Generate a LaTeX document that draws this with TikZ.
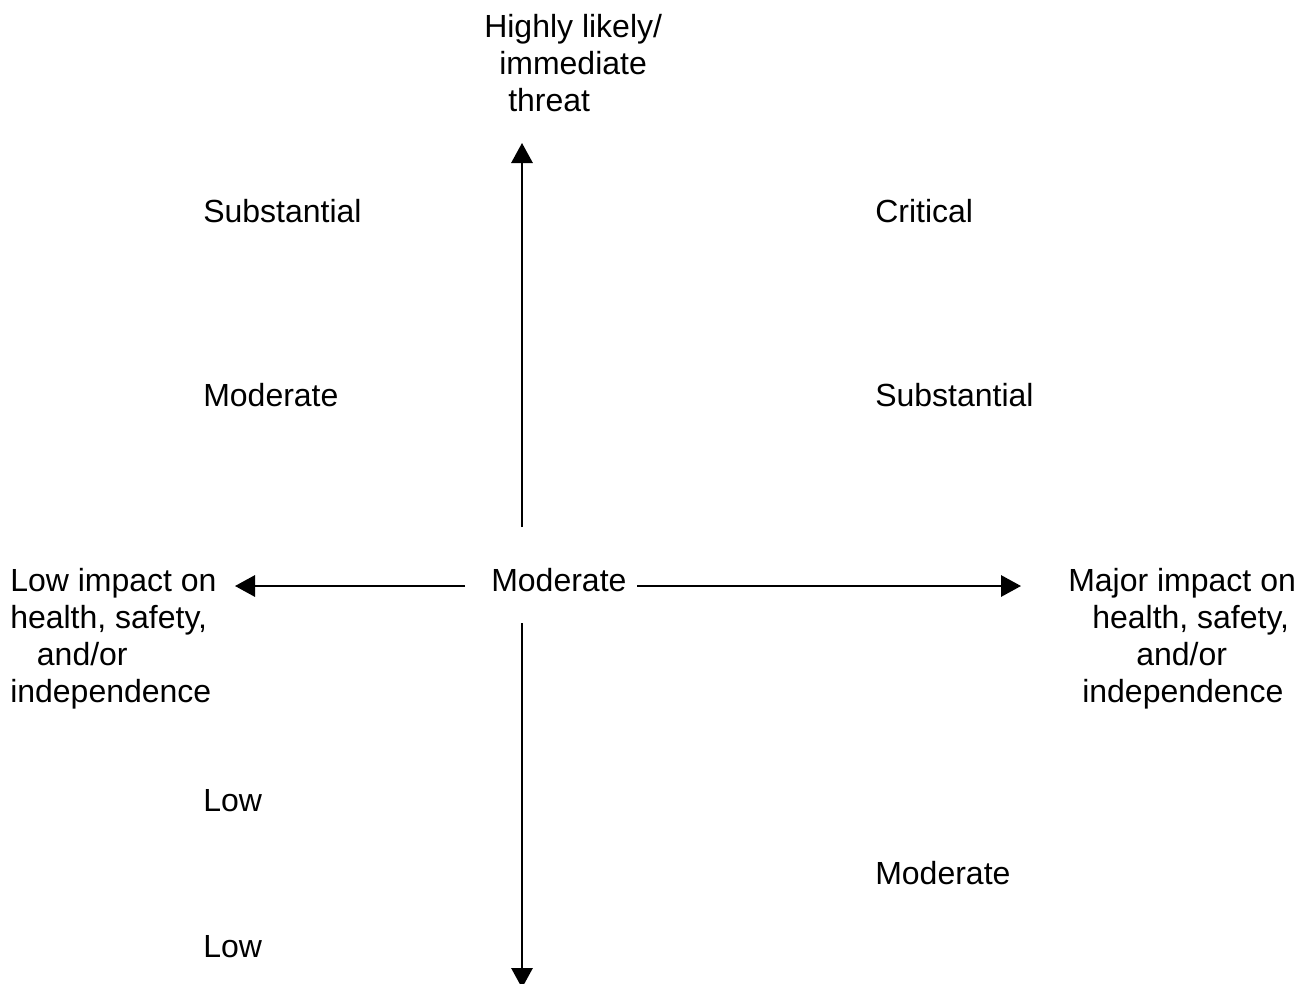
\documentclass[tikz,border=0pt]{standalone}
\usepackage{fontspec}
\setmainfont{Liberation Sans}
\usetikzlibrary{arrows.meta}

\begin{document}
\begin{tikzpicture}[x=0.75pt, y=-0.75pt,
  every node/.style={inner sep=0pt, font=\fontsize{24}{27.75}\selectfont},
  lbl/.style={anchor=base west},
  axis/.style={line width=1.5pt, -{Triangle[length=15pt, width=16pt]}}]
  \useasboundingbox (0,0) rectangle (1304,983);

  % axis ends
  \coordinate (upS) at (522,527);
  \coordinate (upE) at (522,143);
  \coordinate (dnS) at (522,623);
  \coordinate (dnE) at (522,988);
  \coordinate (ltS) at (465,586);
  \coordinate (ltE) at (235,586);
  \coordinate (rtS) at (637,586);
  \coordinate (rtE) at (1021,586);

  % axis labels (base = last line)
  \node[lbl, align=left] (top) at (484,111)
    {Highly likely/\\\hspace*{11.25pt}immediate\\\hspace*{18pt}threat};
  \node[lbl, align=left] (left) at (10,702)
    {Low impact on\\health, safety,\\\hspace*{20pt}and/or\\independence};
  \node[lbl, align=left] (right) at (1068,702)
    {Major impact on\\\hspace*{18pt}health, safety,\\\hspace*{51pt}and/or\\\hspace*{10.5pt}independence};
  \node[lbl] (mid) at (491,591) {Moderate};

  % quadrant levels
  \node[lbl] (subL) at (203,222) {Substantial};
  \node[lbl] (crit) at (875,222) {Critical};
  \node[lbl] (modL) at (203,406) {Moderate};
  \node[lbl] (subR) at (875,406) {Substantial};
  \node[lbl] (lowA) at (203,811) {Low};
  \node[lbl] (modR) at (875,884) {Moderate};
  \node[lbl] (lowB) at (203,957) {Low};

  \draw[axis] (upS) -- (upE);
  \draw[axis] (dnS) -- (dnE);
  \draw[axis] (ltS) -- (ltE);
  \draw[axis] (rtS) -- (rtE);
\end{tikzpicture}
\end{document}
